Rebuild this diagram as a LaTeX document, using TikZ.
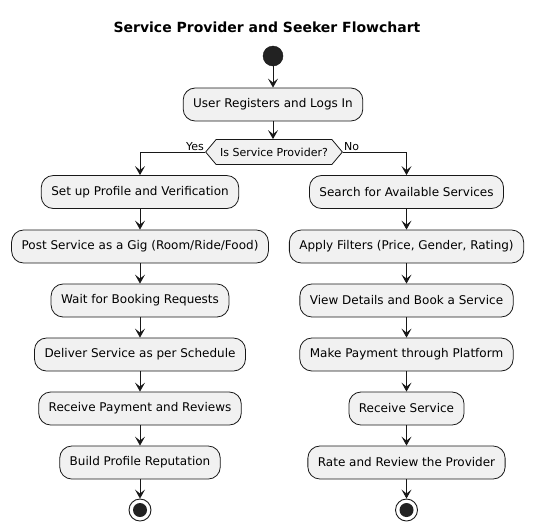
\documentclass[tikz,border=0pt]{standalone}
\usepackage{fontspec}
\setmainfont{DejaVu Sans}
\usetikzlibrary{arrows.meta,shapes.symbols}
\definecolor{actfill}{HTML}{F1F1F1}
\definecolor{actline}{HTML}{181818}
\definecolor{dotfill}{HTML}{222222}
\begin{document}
\begin{tikzpicture}[x=1pt,y=1pt]
\tikzset{act/.style={draw=actline,fill=actfill,rounded corners=12pt,minimum height=33pt,inner xsep=10pt,line width=0.8pt,font=\fontsize{12}{14}\selectfont},
  flow/.style={-{Stealth[length=9pt,width=10pt,inset=4pt]},line width=0.9pt,actline},
  lbl/.style={inner sep=1pt,font=\fontsize{11}{13}\selectfont}}
\useasboundingbox (0,0) rectangle (534,-531);
\node[font=\bfseries\fontsize{14}{16}\selectfont] (title) at (267,-27) {Service Provider and Seeker Flowchart};
\node[circle,fill=dotfill,draw=actline,minimum size=20pt,inner sep=0pt] (start) at (273,-56) {};
\node[act] (reg) at (273,-104.5) {User Registers and Logs In};
\node[signal,signal to=west and east,signal pointer angle=100,draw=actline,fill=actfill,line width=0.8pt,minimum height=25pt,inner xsep=4pt,inner ysep=0pt,font=\fontsize{11}{13}\selectfont] (prov) at (274,-152) {Is Service Provider?};
% provider side
\node[act] (p1) at (140,-192) {Set up Profile and Verification};
\node[act] (p2) at (140,-246.5) {Post Service as a Gig (Room/Ride/Food)};
\node[act] (p3) at (140,-300.5) {Wait for Booking Requests};
\node[act] (p4) at (140,-354.5) {Deliver Service as per Schedule};
\node[act] (p5) at (140,-408.5) {Receive Payment and Reviews};
\node[act] (p6) at (140,-462.5) {Build Profile Reputation};
\node[circle,draw=actline,fill=white,line width=0.9pt,minimum size=22pt,inner sep=0pt] (pend) at (140,-510) {};
\fill[dotfill] (pend.center) circle (7);
% seeker side
\node[act] (s1) at (406.5,-192) {Search for Available Services};
\node[act] (s2) at (406.5,-246.5) {Apply Filters (Price, Gender, Rating)};
\node[act] (s3) at (406.5,-300.5) {View Details and Book a Service};
\node[act] (s4) at (406.5,-354.5) {Make Payment through Platform};
\node[act] (s5) at (406.5,-408.5) {Receive Service};
\node[act] (s6) at (406.5,-462.5) {Rate and Review the Provider};
\node[circle,draw=actline,fill=white,line width=0.9pt,minimum size=22pt,inner sep=0pt] (send) at (406.5,-510) {};
\fill[dotfill] (send.center) circle (7);
\draw[flow] (start) -- (reg);
\draw[flow] (reg) -- (reg |- prov.north);
\draw[flow] (prov.west) -| (p1);
\node[lbl,anchor=south east] (yes) at (prov.west) {Yes};
\draw[flow] (prov.east) -| (s1);
\node[lbl,anchor=south west] (no) at (prov.east) {No};
\draw[flow] (p1) -- (p2);
\draw[flow] (p2) -- (p3);
\draw[flow] (p3) -- (p4);
\draw[flow] (p4) -- (p5);
\draw[flow] (p5) -- (p6);
\draw[flow] (p6) -- (pend);
\draw[flow] (s1) -- (s2);
\draw[flow] (s2) -- (s3);
\draw[flow] (s3) -- (s4);
\draw[flow] (s4) -- (s5);
\draw[flow] (s5) -- (s6);
\draw[flow] (s6) -- (send);
\end{tikzpicture}
\end{document}
